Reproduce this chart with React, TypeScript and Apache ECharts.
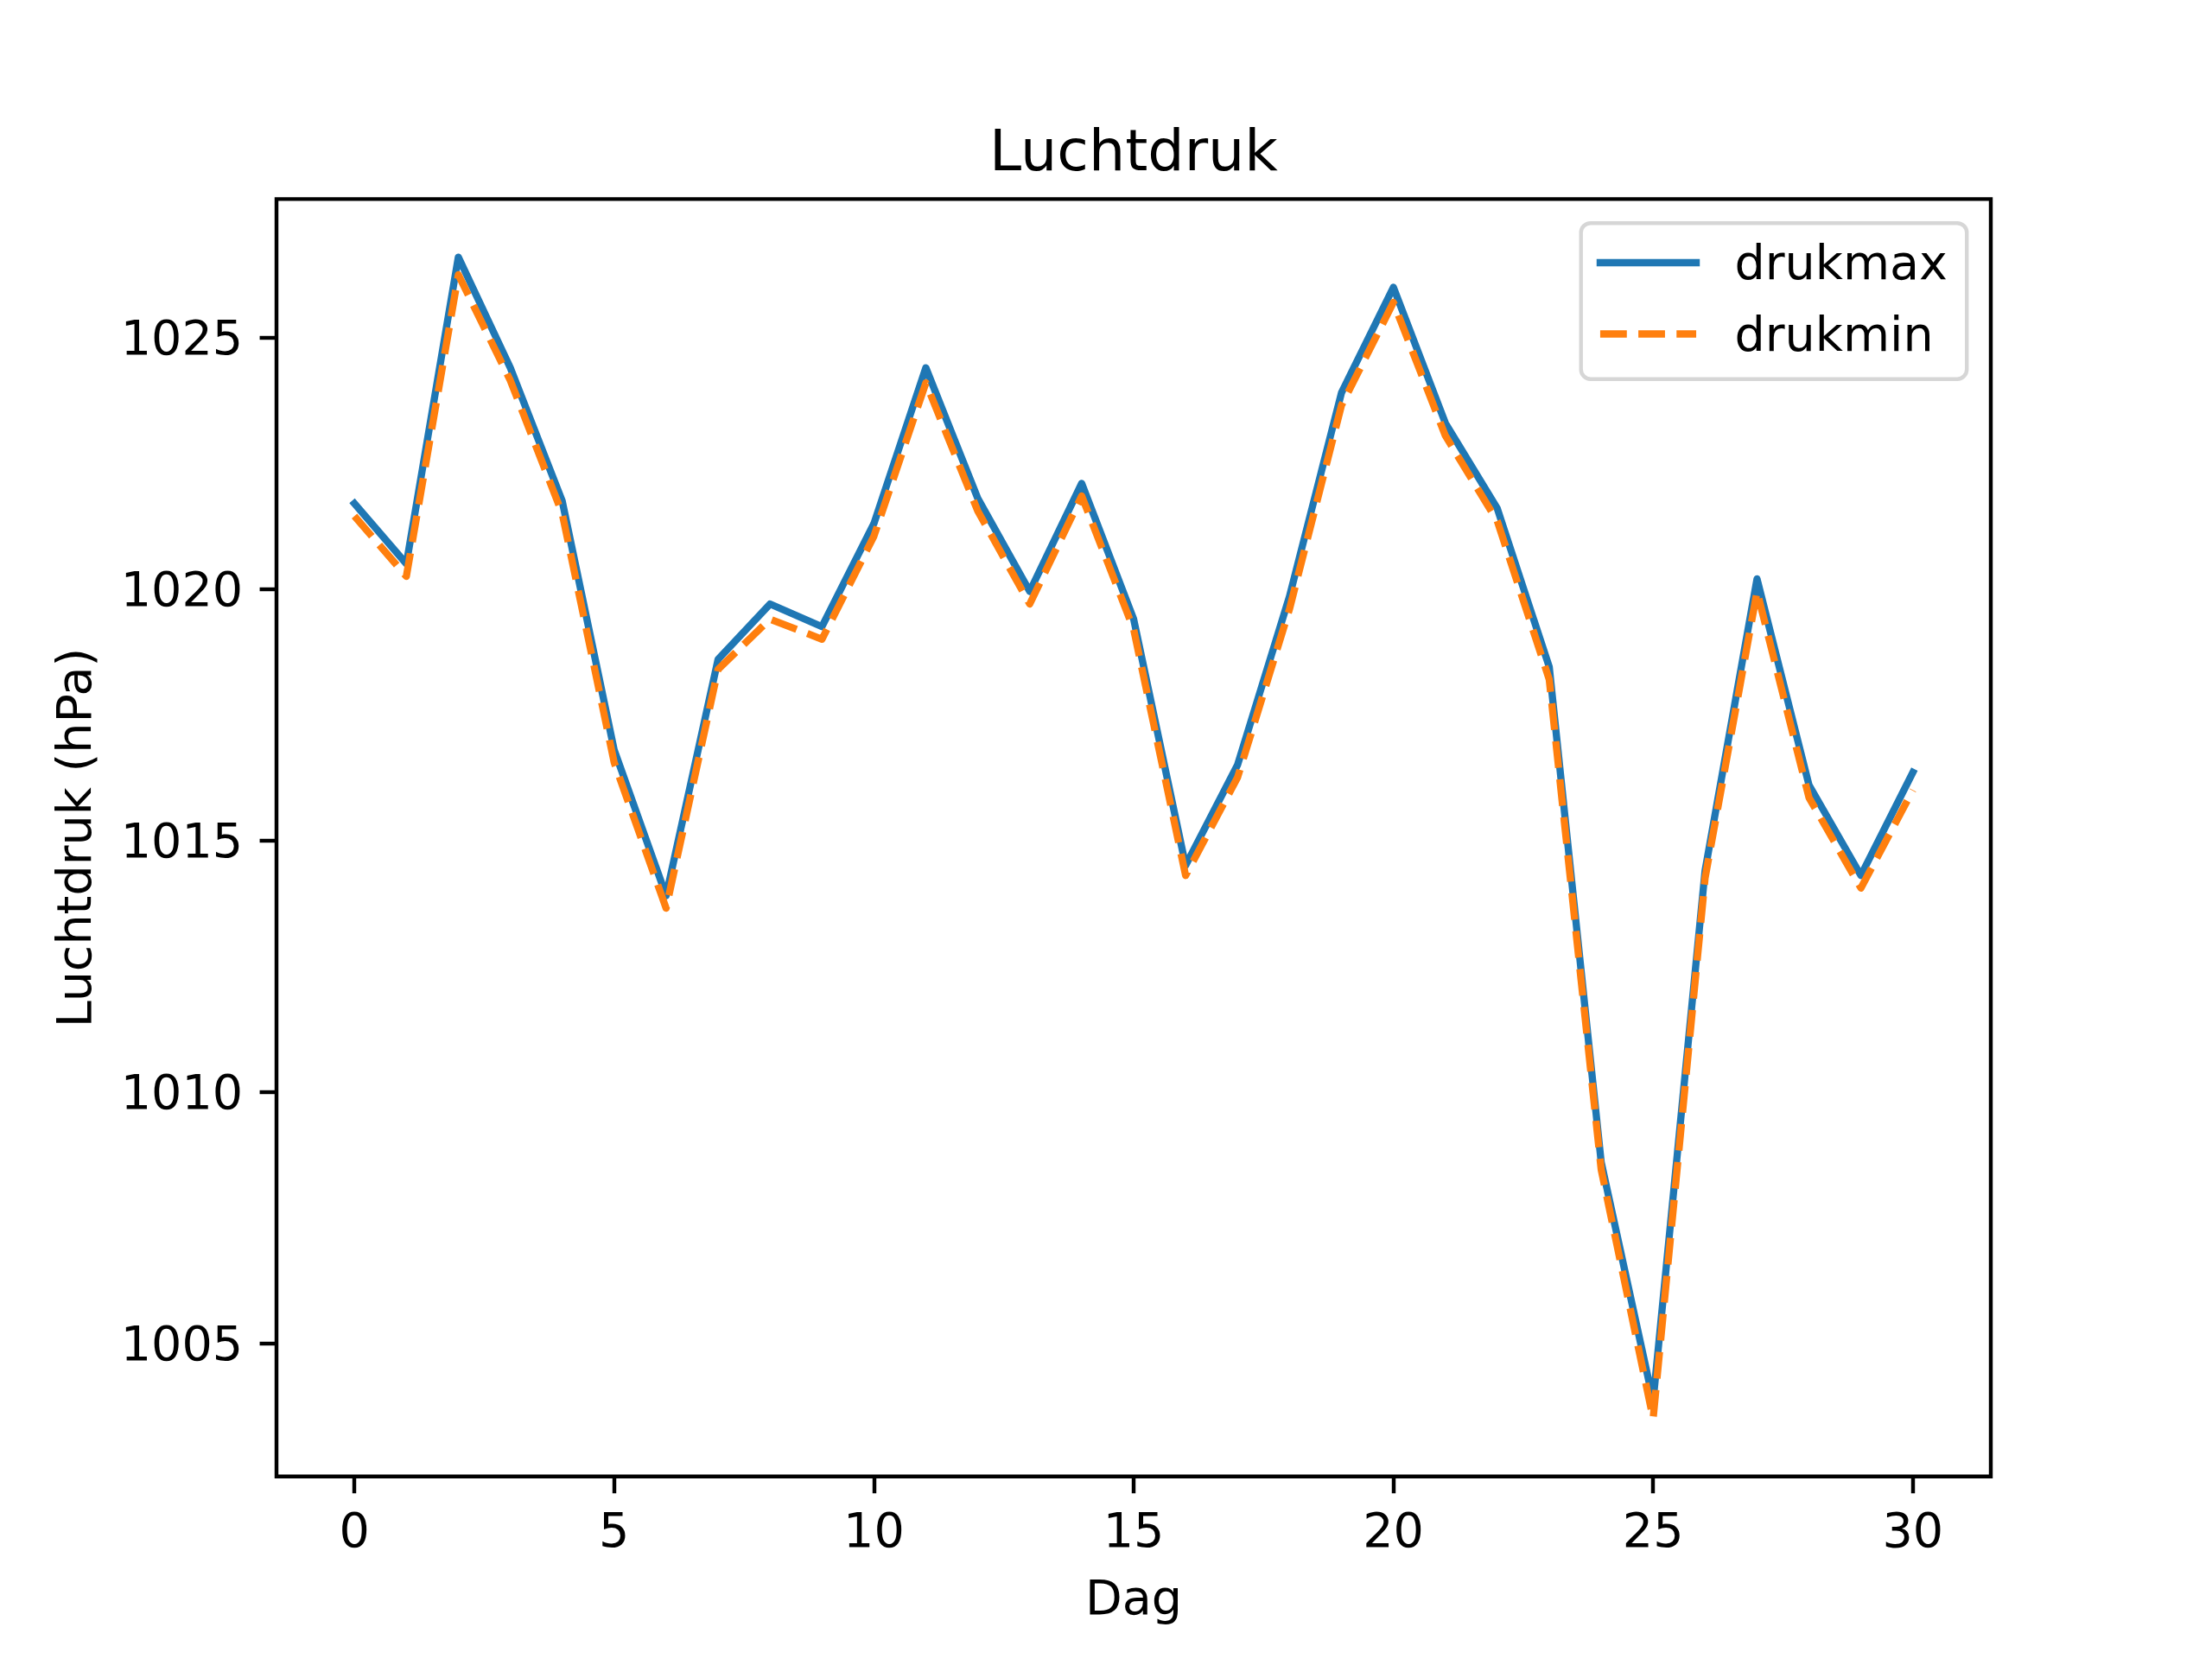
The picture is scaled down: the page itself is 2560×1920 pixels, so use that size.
import React, { useEffect, useRef } from "react";
import * as echarts from "echarts";

// ---- data ----
const days = [0, 1, 2, 3, 4, 5, 6, 7, 8, 9, 10, 11, 12, 13, 14, 15, 16, 17, 18, 19, 20, 21, 22, 23, 24, 25, 26, 27, 28, 29, 30];
const drukmax = [
  1021.7, 1020.5, 1026.6, 1024.4, 1021.75, 1016.8, 1013.9, 1018.6, 1019.7, 1019.25,
  1021.3, 1024.4, 1021.8, 1019.95, 1022.1, 1019.4, 1014.5, 1016.5, 1019.85, 1023.9,
  1026.0, 1023.3, 1021.6, 1018.45, 1008.6, 1003.85, 1014.4, 1020.2, 1016.1, 1014.3,
  1016.35,
];
const drukmin = [
  1021.45, 1020.25, 1026.25, 1024.15, 1021.5, 1016.55, 1013.65, 1018.4, 1019.4, 1019.0,
  1021.05, 1024.1, 1021.55, 1019.7, 1021.85, 1019.2, 1014.3, 1016.25, 1019.6, 1023.65,
  1025.7, 1023.05, 1021.35, 1018.2, 1008.45, 1003.5, 1014.25, 1019.95, 1015.85, 1014.05,
  1016.0,
];
const seriesNames = ["drukmax", "drukmin"];
const xTicks = [0, 5, 10, 15, 20, 25, 30];
const yTicks = [1005, 1010, 1015, 1020, 1025];
const titleText = "Luchtdruk";
const xLabel = "Dag";
const yLabel = "Luchtdruk (hPa)";

// ---- styling constants (matplotlib look at 400 dpi) ----
const PT = 400 / 72;
const FONT = "DejaVu Sans";
const BLUE = "#1f77b4";
const ORANGE = "#ff7f0e";
const LW = 1.5 * PT;
const SPINE = 0.8 * PT;
const TICK_FS = 10 * PT;
const TITLE_FS = 12 * PT;
const TICK_LEN = 3.5 * PT;
const GRID = { left: 320, top: 230.4, width: 1984, height: 1478.4 };

function paddedRange(values: number[]) {
  const lo = Math.min(...values);
  const hi = Math.max(...values);
  const m = (hi - lo) * 0.05;
  return [lo - m, hi + m];
}

export default function App() {
  const ref = useRef<HTMLDivElement>(null);

  useEffect(() => {
    document.body.style.margin = "0";
    if (!ref.current) return;
    const chart = echarts.init(ref.current, undefined, { renderer: "svg" });

    const [xmin, xmax] = paddedRange(days);
    const [ymin, ymax] = paddedRange([...drukmax, ...drukmin]);

    const gridRight = GRID.left + GRID.width;
    const legendRight = gridRight - 0.5 * TICK_FS;
    const legendTop = GRID.top + 0.5 * TICK_FS;
    const legendW = 446.5;
    const legendH = 180.5;
    const legendLeft = legendRight - legendW;
    const handleX0 = legendLeft + 0.4 * TICK_FS;
    const handleX1 = handleX0 + 2 * TICK_FS;
    const textX = handleX1 + 0.8 * TICK_FS;
    const row0 = legendTop + 45.8;
    const rowGap = 82.5;

    const legendItems: any[] = [];
    seriesNames.forEach((name, i) => {
      const y = row0 + i * rowGap;
      legendItems.push({
        type: "line",
        shape: { x1: handleX0, y1: y, x2: handleX1, y2: y },
        style: {
          stroke: i === 0 ? BLUE : ORANGE,
          lineWidth: LW,
          lineCap: i === 0 ? "square" : "butt",
          lineDash: i === 0 ? null : [3.7 * 1.5 * PT, 1.6 * 1.5 * PT],
        },
      });
      legendItems.push({
        type: "text",
        x: textX,
        y: y,
        style: {
          text: name,
          fontSize: TICK_FS,
          fontFamily: FONT,
          fill: "#000",
          textAlign: "left",
          textVerticalAlign: "middle",
        },
      });
    });

    const plainLabel = (v: number) => String(v);

    chart.setOption({
      animation: false,
      backgroundColor: "#fff",
      title: {
        text: titleText,
        left: GRID.left + GRID.width / 2,
        top: 140.6,
        textAlign: "center",
        padding: 0,
        textStyle: { fontSize: TITLE_FS, fontWeight: "normal", color: "#000", fontFamily: FONT },
      },
      grid: {
        ...GRID,
        show: true,
        borderColor: "#000",
        borderWidth: SPINE,
        backgroundColor: "rgba(0,0,0,0)",
        containLabel: false,
      },
      xAxis: {
        type: "value",
        min: xmin,
        max: xmax,
        position: "bottom",
        axisLine: { show: false, onZero: false },
        splitLine: { show: false },
        axisTick: {
          show: true,
          customValues: xTicks,
          length: TICK_LEN,
          lineStyle: { color: "#000", width: SPINE },
        },
        axisLabel: {
          customValues: xTicks,
          formatter: plainLabel,
          margin: 34,
          fontSize: TICK_FS,
          fontFamily: FONT,
          color: "#000",
        },
        name: xLabel,
        nameLocation: "middle",
        nameGap: 112,
        nameTextStyle: { fontSize: TICK_FS, fontFamily: FONT, color: "#000" },
      },
      yAxis: {
        type: "value",
        min: ymin,
        max: ymax,
        position: "left",
        axisLine: { show: false, onZero: false },
        splitLine: { show: false },
        axisTick: {
          show: true,
          customValues: yTicks,
          length: TICK_LEN,
          lineStyle: { color: "#000", width: SPINE },
        },
        axisLabel: {
          customValues: yTicks,
          formatter: plainLabel,
          margin: 2 * TICK_LEN,
          fontSize: TICK_FS,
          fontFamily: FONT,
          color: "#000",
        },
        name: yLabel,
        nameLocation: "middle",
        nameGap: 207,
        nameTextStyle: { fontSize: TICK_FS, fontFamily: FONT, color: "#000" },
      },
      series: [
        {
          type: "line",
          name: seriesNames[0],
          data: days.map((d, i) => [d, drukmax[i]]),
          showSymbol: false,
          symbol: "none",
          itemStyle: { color: BLUE },
          lineStyle: { color: BLUE, width: LW, cap: "square", join: "round" },
          emphasis: { disabled: true },
        },
        {
          type: "line",
          name: seriesNames[1],
          data: days.map((d, i) => [d, drukmin[i]]),
          showSymbol: false,
          symbol: "none",
          itemStyle: { color: ORANGE },
          lineStyle: {
            color: ORANGE,
            width: LW,
            type: [3.7 * 1.5 * PT, 1.6 * 1.5 * PT],
            cap: "butt",
            join: "round",
          },
          emphasis: { disabled: true },
        },
      ],
      graphic: [
        {
          type: "group",
          z: 100,
          children: [
            {
              type: "rect",
              shape: { x: legendLeft, y: legendTop, width: legendW, height: legendH, r: 0.2 * TICK_FS },
              style: { fill: "rgba(255,255,255,0.8)", stroke: "rgba(204,204,204,0.8)", lineWidth: SPINE },
            },
            ...legendItems,
          ],
        },
      ],
    });

    return () => chart.dispose();
  }, []);

  return <div ref={ref} style={{ width: 2560, height: 1920 }} />;
}
